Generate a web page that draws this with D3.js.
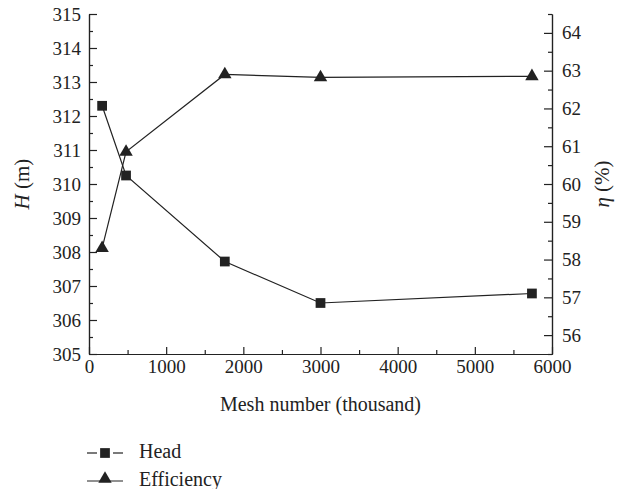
<!DOCTYPE html>
<html>
  <head>
    <meta charset="utf-8">
    <title>mesh independence</title>
    <style>
      body { margin: 0; background: #fff; }
      text { font-family: "Liberation Serif", "DejaVu Serif", serif; fill: #222; }
    </style>
  </head>
  <body>
    <script src="https://cdn.jsdelivr.net/npm/d3@7/dist/d3.min.js" charset="utf-8"></script>
    <script type="text/javascript">
      var meshNumbers = [170, 480, 1760, 3000, 5740];
      var headValues = [312.3, 310.25, 307.72, 306.5, 306.78];
      var efficiencyValues = [58.3, 60.85, 62.9, 62.82, 62.85];

      var xTicks = [0, 1000, 2000, 3000, 4000, 5000, 6000];
      var headTicks = [305, 306, 307, 308, 309, 310, 311, 312, 313, 314, 315];
      var effTicks = [56, 57, 58, 59, 60, 61, 62, 63, 64];

      var width = 623;
      var height = 489;
      var pLeft = 89, pRight = 552, pTop = 14, pBottom = 354;
      var ink = "#222";

      var svg = d3.select("body")
                  .append("svg")
                  .attr("width", width)
                  .attr("height", height);

      var x = d3.scaleLinear().domain([0, 6000]).range([pLeft, pRight]);
      var yH = d3.scaleLinear().domain([305, 315]).range([pBottom, pTop]);
      var yE = d3.scaleLinear().domain([55.5, 64.5]).range([pBottom, pTop]);

      function halves(ticks) {
        return ticks.map(function(t) { return t + 0.5; });
      }

      function styleAxis(g) {
        g.selectAll("path, line").attr("stroke", ink).attr("stroke-width", 1.2);
        g.selectAll("text").attr("font-size", 19).attr("fill", ink)
         .attr("font-family", "Liberation Serif, DejaVu Serif, serif");
      }

      // bottom axis, ticks pointing in
      svg.append("g").attr("transform", "translate(0," + pBottom + ")")
         .call(d3.axisBottom(x).tickValues(xTicks.slice(0, -1).map(function(t) { return t + 500; }))
               .tickSize(-4).tickSizeOuter(0).tickFormat(""))
         .call(styleAxis);
      svg.append("g").attr("transform", "translate(0," + pBottom + ")")
         .call(d3.axisBottom(x).tickValues(xTicks).tickSize(-7).tickSizeOuter(0)
               .tickPadding(6).tickFormat(d3.format("d")))
         .call(styleAxis);

      // left axis (head)
      svg.append("g").attr("transform", "translate(" + pLeft + ",0)")
         .call(d3.axisLeft(yH).tickValues(halves(headTicks.slice(0, -1)))
               .tickSize(-4).tickSizeOuter(0).tickFormat(""))
         .call(styleAxis);
      svg.append("g").attr("transform", "translate(" + pLeft + ",0)")
         .call(d3.axisLeft(yH).tickValues(headTicks).tickSize(-8).tickSizeOuter(0)
               .tickPadding(8).tickFormat(d3.format("d")))
         .call(styleAxis);

      // right axis (efficiency)
      svg.append("g").attr("transform", "translate(" + pRight + ",0)")
         .call(d3.axisRight(yE).tickValues([55.5].concat(halves(effTicks)))
               .tickSize(-4).tickSizeOuter(0).tickFormat(""))
         .call(styleAxis);
      svg.append("g").attr("transform", "translate(" + pRight + ",0)")
         .call(d3.axisRight(yE).tickValues(effTicks).tickSize(-8).tickSizeOuter(0)
               .tickPadding(10).tickFormat(d3.format("d")))
         .call(styleAxis);

      // axis titles
      var hLabel = svg.append("text")
         .attr("transform", "translate(29," + (pTop + pBottom) / 2 + ") rotate(-90)")
         .attr("text-anchor", "middle").attr("font-size", 21);
      hLabel.append("tspan").attr("font-style", "italic").text("H");
      hLabel.append("tspan").text(" (m)");

      var eLabel = svg.append("text")
         .attr("transform", "translate(609," + (pTop + pBottom) / 2 + ") rotate(-90)")
         .attr("text-anchor", "middle").attr("font-size", 21);
      eLabel.append("tspan").attr("font-style", "italic").text("η");
      eLabel.append("tspan").text(" (%)");

      svg.append("text")
         .attr("x", (pLeft + pRight) / 2).attr("y", 411)
         .attr("text-anchor", "middle").attr("font-size", 20)
         .text("Mesh number (thousand)");

      // lines
      var headPts = meshNumbers.map(function(m, i) { return [x(m), yH(headValues[i])]; });
      var effPts = meshNumbers.map(function(m, i) { return [x(m), yE(efficiencyValues[i])]; });

      svg.append("path").attr("d", d3.line()(headPts))
         .attr("fill", "none").attr("stroke", ink).attr("stroke-width", 1.2);
      svg.append("path").attr("d", d3.line()(effPts))
         .attr("fill", "none").attr("stroke", ink).attr("stroke-width", 1.2);

      var square = d3.symbol().type(d3.symbolSquare).size(95);
      var triangle = d3.symbol().type(d3.symbolTriangle).size(78);

      svg.selectAll("path.head").data(headPts).enter()
         .append("path").attr("class", "head")
         .attr("d", square)
         .attr("transform", function(d) { return "translate(" + d[0] + "," + d[1] + ")"; })
         .attr("fill", ink);

      svg.selectAll("path.eff").data(effPts).enter()
         .append("path").attr("class", "eff")
         .attr("d", triangle)
         .attr("transform", function(d) { return "translate(" + d[0] + "," + d[1] + ")"; })
         .attr("fill", ink);

      // legend
      var legend = svg.append("g").attr("transform", "translate(87,453)");
      legend.append("line").attr("x1", 0).attr("x2", 10).attr("y1", 0).attr("y2", 0)
            .attr("stroke", ink).attr("stroke-width", 1.2);
      legend.append("line").attr("x1", 26).attr("x2", 36).attr("y1", 0).attr("y2", 0)
            .attr("stroke", ink).attr("stroke-width", 1.2);
      legend.append("path").attr("d", square).attr("transform", "translate(18,0)").attr("fill", ink);
      legend.append("text").attr("x", 52).attr("y", 4.5).attr("font-size", 20).text("Head");

      var legend2 = svg.append("g").attr("transform", "translate(87,481)");
      legend2.append("line").attr("x1", 0).attr("x2", 36).attr("y1", 0).attr("y2", 0)
             .attr("stroke", ink).attr("stroke-width", 1.2);
      legend2.append("path").attr("d", triangle).attr("transform", "translate(18,-2)").attr("fill", ink);
      legend2.append("text").attr("x", 52).attr("y", 4.5).attr("font-size", 20).text("Efficiency");
    </script>
  </body>
</html>
